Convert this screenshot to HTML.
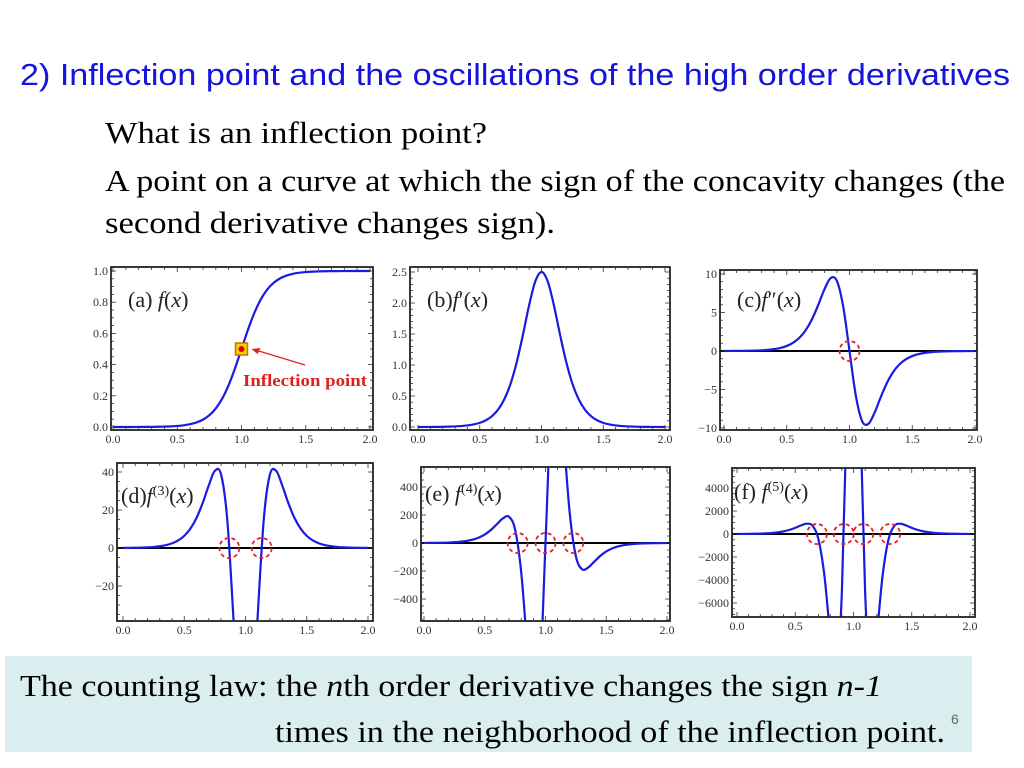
<!DOCTYPE html>
<html><head><meta charset="utf-8"><style>
html,body{margin:0;padding:0;background:#fff;}
svg{display:block;}
</style></head><body>
<svg id="slide" width="1024" height="768" viewBox="0 0 1024 768" xmlns="http://www.w3.org/2000/svg">
<text x="20" y="85" font-family="Liberation Sans, sans-serif" font-size="31" fill="#1414dc" textLength="990" lengthAdjust="spacingAndGlyphs">2) Inflection point and the oscillations of the high order derivatives</text>
<text x="105" y="143" font-family="Liberation Serif, serif" font-size="31" fill="#000" textLength="382" lengthAdjust="spacingAndGlyphs">What is an inflection point?</text>
<text x="105" y="191" font-family="Liberation Serif, serif" font-size="31" fill="#000" textLength="900" lengthAdjust="spacingAndGlyphs">A point on a curve at which the sign of the concavity changes (the</text>
<text x="105" y="233" font-family="Liberation Serif, serif" font-size="31" fill="#000" textLength="450" lengthAdjust="spacingAndGlyphs">second derivative changes sign).</text>
<g id="charts"></g>
<rect x="5" y="656" width="967" height="96" fill="#daeef0"/>
<text x="20" y="696" font-family="Liberation Serif, serif" font-size="31" fill="#000" textLength="862" lengthAdjust="spacingAndGlyphs">The counting law: the <tspan font-style="italic">n</tspan>th order derivative changes the sign <tspan font-style="italic">n-1</tspan></text>
<text x="275" y="742" font-family="Liberation Serif, serif" font-size="31" fill="#000" textLength="670" lengthAdjust="spacingAndGlyphs">times in the neighborhood of the inflection point.</text>
<text x="951" y="724" font-family="Liberation Sans, sans-serif" font-size="14" fill="#666">6</text>
</svg>
<script>
// sample x positions: 0 to 2 step 0.05
const xs = [];
for (let i = 0; i <= 40; i++) xs.push(i * 0.05);
const fA = [0.0000,0.0001,0.0001,0.0002,0.0003,0.0006,0.0009,0.0015,0.0025,0.0041,0.0067,0.0110,0.0180,0.0293,0.0474,0.0759,0.1192,0.1824,0.2689,0.3775,0.5,0.6225,0.7311,0.8176,0.8808,0.9241,0.9526,0.9707,0.9820,0.9890,0.9933,0.9959,0.9975,0.9985,0.9991,0.9994,0.9997,0.9998,0.9999,0.9999,1.0];
const fB = [0.0005,0.0007,0.0012,0.002,0.0034,0.0055,0.0091,0.015,0.0247,0.0407,0.0665,0.109,0.177,0.284,0.452,0.701,1.050,1.491,1.966,2.350,2.5,2.350,1.966,1.491,1.050,0.701,0.452,0.284,0.177,0.109,0.0665,0.0407,0.0247,0.015,0.0091,0.0055,0.0034,0.002,0.0012,0.0007,0.0005];
const fC = [0.0045,0.007,0.012,0.02,0.033,0.055,0.091,0.149,0.245,0.40,0.656,1.066,1.706,2.674,4.091,5.947,7.997,9.469,9.085,5.755,0,-5.755,-9.085,-9.469,-7.997,-5.947,-4.091,-2.674,-1.706,-1.066,-0.656,-0.40,-0.245,-0.149,-0.091,-0.055,-0.033,-0.02,-0.012,-0.007,-0.0045];
const fD = [0.045,0.075,0.12,0.2,0.335,0.55,0.91,1.49,2.43,3.97,6.38,10.19,15.8,23.6,32.9,40.6,38.85,15.7,-35.3,-96.4,-125,-96.4,-35.3,15.7,38.85,40.6,32.9,23.6,15.8,10.19,6.38,3.97,2.43,1.49,0.91,0.55,0.335,0.2,0.12,0.075,0.045];
const fE = [0.45,0.7,1.2,2.0,3.3,5.5,9.0,14.7,23.8,38.4,60.4,92.7,134.4,176.2,187.2,94.4,-207.9,-747,-1234.6,-1047,0,1047,1234.6,747,207.9,-94.4,-187.2,-176.2,-134.4,-92.7,-60.4,-38.4,-23.8,-14.7,-9.0,-5.5,-3.3,-2.0,-1.2,-0.7,-0.45];
const fF = [4.5,7,12,20,33,54,88.5,143,229,358,536,749,897,695,-501,-3598,-8684,-12003,-5112,13560,25000,13560,-5112,-12003,-8684,-3598,-501,695,897,749,536,358,229,143,88.5,54,33,20,12,7,4.5];
const xTickLabels = ["0.0","0.5","1.0","1.5","2.0"];
const xTickValues = [0,0.5,1,1.5,2];
const yTicksA = [0,0.2,0.4,0.6,0.8,1.0];
const yLabelsA = ["0.0","0.2","0.4","0.6","0.8","1.0"];
const yTicksB = [0,0.5,1,1.5,2,2.5];
const yLabelsB = ["0.0","0.5","1.0","1.5","2.0","2.5"];
const yTicksC = [-10,-5,0,5,10];
const yLabelsC = ["−10","−5","0","5","10"];
const yTicksD = [-20,0,20,40];
const yLabelsD = ["−20","0","20","40"];
const yTicksE = [-400,-200,0,200,400];
const yLabelsE = ["−400","−200","0","200","400"];
const yTicksF = [-6000,-4000,-2000,0,2000,4000];
const yLabelsF = ["−6000","−4000","−2000","0","2000","4000"];
const zerosC = [1.0];
const zerosD = [0.868,1.132];
const zerosE = [0.771,1.0,1.229];
const zerosF = [0.686,0.916,1.084,1.314];
const inflectionX = 1.0, inflectionY = 0.5;

const NS = "http://www.w3.org/2000/svg";
const root = document.getElementById('charts');
function mk(tag, attrs, parent) {
  const e = document.createElementNS(NS, tag);
  for (const k in attrs) e.setAttribute(k, attrs[k]);
  (parent || root).appendChild(e);
  return e;
}
const panels = [
 {id:'a', frame:[111,267,373,430], xp:[113,370], yv:[0,1], yp:[427,271], data:fA, yt:yTicksA, yl:yLabelsA, minor:0.05, zero:false, zeros:[]},
 {id:'b', frame:[410,267,670,430], xp:[418,665], yv:[0,2.5], yp:[427,272], data:fB, yt:yTicksB, yl:yLabelsB, minor:0.1, zero:false, zeros:[]},
 {id:'c', frame:[720,270,977,430], xp:[724,975], yv:[0,10], yp:[351,274], data:fC, yt:yTicksC, yl:yLabelsC, minor:1, zero:true, zeros:zerosC},
 {id:'d', frame:[117,463,373,621], xp:[123,368], yv:[0,40], yp:[548,472], data:fD, yt:yTicksD, yl:yLabelsD, minor:5, zero:true, zeros:zerosD},
 {id:'e', frame:[421,467,670,621], xp:[424,667], yv:[0,400], yp:[543,487], data:fE, yt:yTicksE, yl:yLabelsE, minor:50, zero:true, zeros:zerosE},
 {id:'f', frame:[732,468,975,617], xp:[737,970], yv:[0,4000], yp:[534,488], data:fF, yt:yTicksF, yl:yLabelsF, minor:500, zero:true, zeros:zerosF}
];
const titles = {
 a:{x:128,y:307,html:'(a)<tspan font-style="italic"> f</tspan>(<tspan font-style="italic">x</tspan>)'},
 b:{x:427,y:307,html:'(b)<tspan font-style="italic">f</tspan>′(<tspan font-style="italic">x</tspan>)'},
 c:{x:737,y:307,html:'(c)<tspan font-style="italic">f</tspan>″(<tspan font-style="italic">x</tspan>)'},
 d:{x:121,y:503,html:'(d)<tspan font-style="italic">f</tspan><tspan font-size="14" dy="-8">(3)</tspan><tspan dy="8">(</tspan><tspan font-style="italic">x</tspan>)'},
 e:{x:425,y:501,html:'(e)<tspan font-style="italic"> f</tspan><tspan font-size="14" dy="-8">(4)</tspan><tspan dy="8">(</tspan><tspan font-style="italic">x</tspan>)'},
 f:{x:734,y:499,html:'(f)<tspan font-style="italic"> f</tspan><tspan font-size="14" dy="-8">(5)</tspan><tspan dy="8">(</tspan><tspan font-style="italic">x</tspan>)'}
};
panels.forEach(p => {
  const g = mk('g', {});
  
  
  const [l,t,r,b] = p.frame;
  const X = v => p.xp[0] + (v - 0) / 2 * (p.xp[1] - p.xp[0]);
  const Y = v => p.yp[0] + (v - p.yv[0]) / (p.yv[1] - p.yv[0]) * (p.yp[1] - p.yp[0]);
  const inv = py => p.yv[0] + (py - p.yp[0]) / (p.yp[1] - p.yp[0]) * (p.yv[1] - p.yv[0]);
  mk('rect', {x:l,y:t,width:r-l,height:b-t,fill:'#fff'}, g);
  const cp = mk('clipPath', {id:'clip-'+p.id}, g);
  mk('rect', {x:l,y:t,width:r-l,height:b-t}, cp);
  if (p.zero) {
    const z = mk('line', {x1:l,x2:r,y1:Y(0),y2:Y(0),stroke:'#000','stroke-width':2}, g);
    
    
  }
  const pts = xs.map((x,i) => [X(x), Math.max(-3000, Math.min(3000, Y(p.data[i])))]);
  let d = 'M' + pts[0][0].toFixed(2) + ',' + pts[0][1].toFixed(2);
  for (let i = 0; i < pts.length - 1; i++) {
    const p0 = pts[Math.max(0,i-1)], p1 = pts[i], p2 = pts[i+1], p3 = pts[Math.min(pts.length-1,i+2)];
    const c1 = [p1[0] + (p2[0]-p0[0])/6, p1[1] + (p2[1]-p0[1])/6];
    const c2 = [p2[0] - (p3[0]-p1[0])/6, p2[1] - (p3[1]-p1[1])/6];
    d += 'C' + c1[0].toFixed(2)+','+c1[1].toFixed(2)+' '+c2[0].toFixed(2)+','+c2[1].toFixed(2)+' '+p2[0].toFixed(2)+','+p2[1].toFixed(2);
  }
  const curve = mk('path', {d:d, fill:'none', stroke:'#1a1ae0', 'stroke-width':2.2, 'clip-path':'url(#clip-'+p.id+')'}, g);
  
  
  mk('rect', {x:l,y:t,width:r-l,height:b-t,fill:'none',stroke:'#222','stroke-width':1.8}, g);
  for (let k = 0; k <= 20; k++) {
    const v = k * 0.1, px = X(v);
    if (px < l || px > r) continue;
    const len = (k % 5 === 0) ? 5 : 3;
    mk('line', {x1:px,x2:px,y1:b,y2:b-len,stroke:'#333','stroke-width':0.8}, g);
    mk('line', {x1:px,x2:px,y1:t,y2:t+len,stroke:'#333','stroke-width':0.8}, g);
  }
  xTickValues.forEach((v,i) => {
    const tx = mk('text', {x:X(v), y:b+13, 'text-anchor':'middle', 'font-family':'Liberation Serif, serif', 'font-size':12, fill:'#333'}, g);
    tx.textContent = xTickLabels[i];
    
    
  });
  const vTop = inv(t), vBot = inv(b);
  const lo = Math.min(vTop, vBot), hi = Math.max(vTop, vBot);
  const step = p.yt[1] - p.yt[0];
  for (let v = Math.ceil(lo / p.minor) * p.minor; v <= hi + 1e-9; v += p.minor) {
    const py = Y(v);
    const isMajor = Math.abs(v / step - Math.round(v / step)) < 1e-6;
    const len = isMajor ? 5 : 3;
    mk('line', {x1:l,x2:l+len,y1:py,y2:py,stroke:'#333','stroke-width':0.8}, g);
    mk('line', {x1:r,x2:r-len,y1:py,y2:py,stroke:'#333','stroke-width':0.8}, g);
  }
  p.yt.forEach((v,i) => {
    const ty = mk('text', {x:l-3, y:Y(v)+4, 'text-anchor':'end', 'font-family':'Liberation Serif, serif', 'font-size':12, fill:'#333'}, g);
    ty.textContent = p.yl[i];
    
    
  });
  p.zeros.forEach(zx => {
    const c = mk('circle', {cx:X(zx), cy:Y(0), r:10, fill:'none', stroke:'#e82020', 'stroke-width':1.8, 'stroke-dasharray':'4,3'}, g);
    
    
  });
  const T = titles[p.id];
  const tt = mk('text', {x:T.x, y:T.y, 'font-family':'Liberation Serif, serif', 'font-size':22, fill:'#222'}, g);
  tt.innerHTML = T.html;
  
  
  if (p.id === 'a') {
    const ix = X(inflectionX), iy = Y(inflectionY);
    const sq = mk('rect', {x:ix-6, y:iy-6, width:12, height:12, fill:'#f4d000', stroke:'#d07000', 'stroke-width':1.5}, g);
    
    
    mk('circle', {cx:ix, cy:iy, r:3, fill:'#e00000'}, g);
    const ar = mk('line', {x1:305, y1:365, x2:ix+14, y2:iy+1, stroke:'#e02020', 'stroke-width':1.2}, g);
    
    
    mk('path', {d:'M'+(ix+10)+','+(iy)+' l9,-1 l-3,6 z', fill:'#e02020'}, g);
    const lb = mk('text', {x:243, y:386, 'font-family':'Liberation Serif, serif', 'font-size':17, 'font-weight':'bold', fill:'#e02020', textLength:124, lengthAdjust:'spacingAndGlyphs'}, g);
    lb.textContent = 'Inflection point';
    
    
  }
});
</script>
</body></html>
